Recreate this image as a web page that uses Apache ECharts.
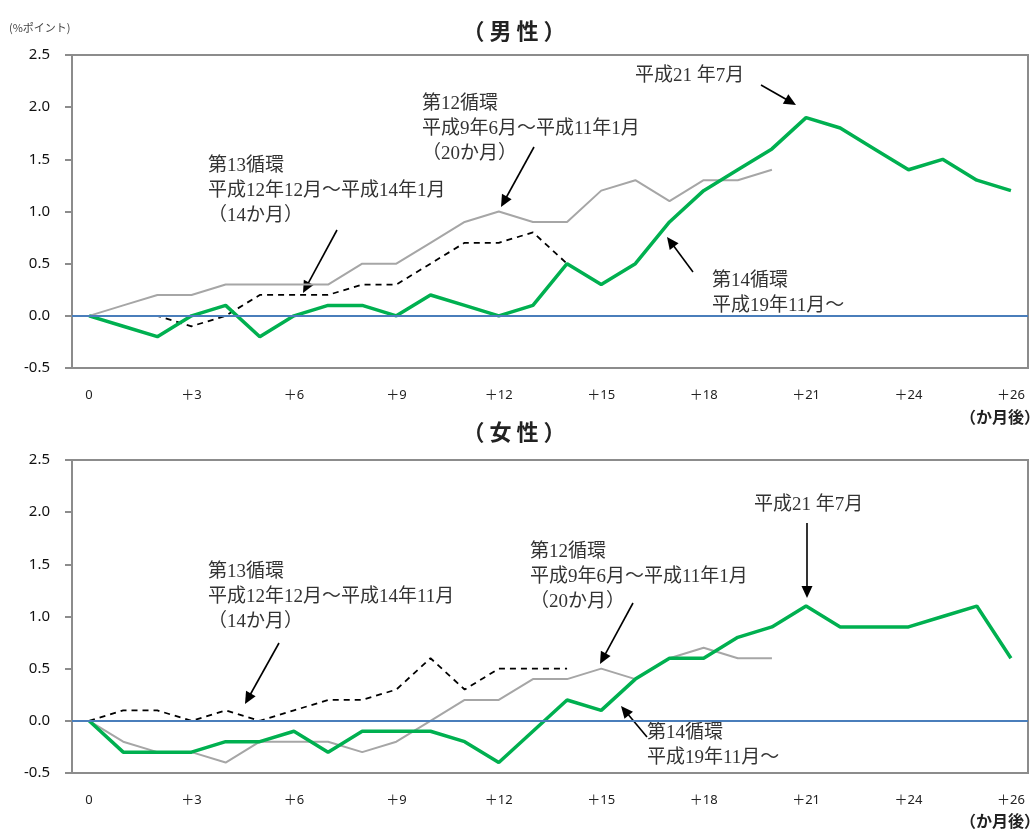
<!DOCTYPE html>
<html><head><meta charset="utf-8">
<script src="https://cdn.jsdelivr.net/npm/echarts@6/dist/echarts.min.js"></script>
<style>html,body{margin:0;padding:0;background:#fff}#c{width:1035px;height:830px}</style>
</head><body><div id="c"></div>
<script>
// months after trough (0..27)
var months = ['0','1','2','3','4','5','6','7','8','9','10','11','12','13','14','15','16','17','18','19','20','21','22','23','24','25','26','27'];
var tickLabels = {0:'0',3:'＋3',6:'＋6',9:'＋9',12:'＋12',15:'＋15',18:'＋18',21:'＋21',24:'＋24',27:'＋26'};
var yTicks = [-0.5, 0.0, 0.5, 1.0, 1.5, 2.0, 2.5];

// 男性
var male12 = [0,0.1,0.2,0.2,0.3,0.3,0.3,0.3,0.5,0.5,0.7,0.9,1.0,0.9,0.9,1.2,1.3,1.1,1.3,1.3,1.4];
var male13 = [0,0,0,-0.1,0,0.2,0.2,0.2,0.3,0.3,0.5,0.7,0.7,0.8,0.5];
var male14 = [0,-0.1,-0.2,0,0.1,-0.2,0,0.1,0.1,0,0.2,0.1,0,0.1,0.5,0.3,0.5,0.9,1.2,1.4,1.6,1.9,1.8,1.6,1.4,1.5,1.3,1.2];
// 女性
var female12 = [0,-0.2,-0.3,-0.3,-0.4,-0.2,-0.2,-0.2,-0.3,-0.2,0,0.2,0.2,0.4,0.4,0.5,0.4,0.6,0.7,0.6,0.6];
var female13 = [0,0.1,0.1,0,0.1,0,0.1,0.2,0.2,0.3,0.6,0.3,0.5,0.5,0.5];
var female14 = [0,-0.3,-0.3,-0.3,-0.2,-0.2,-0.1,-0.3,-0.1,-0.1,-0.1,-0.2,-0.4,-0.1,0.2,0.1,0.4,0.6,0.6,0.8,0.9,1.1,0.9,0.9,0.9,1.0,1.1,0.6];

var SANS = '"Noto Sans","Noto Sans CJK JP",sans-serif';
var CJK = '"Noto Sans CJK JP",sans-serif';
var NOTE = '"Liberation Serif","Noto Sans CJK JP",serif';

function xAxis(gi){
  return {type:'category', gridIndex:gi, data:months, boundaryGap:true,
    axisLine:{show:true, onZero:false, lineStyle:{color:'#8c8c8c', width:2}},
    axisTick:{show:false},
    axisLabel:{interval:0, margin:21, fontSize:13, color:'#222', fontFamily:SANS,
      formatter:function(v,i){return tickLabels[i]!==undefined?tickLabels[i]:'';}},
    splitLine:{show:false}};
}
function yAxis(gi){
  return {type:'value', gridIndex:gi, min:yTicks[0], max:yTicks[yTicks.length-1], interval:0.5,
    axisLine:{show:true, lineStyle:{color:'#8c8c8c', width:2}},
    axisTick:{show:true, inside:false, length:7, lineStyle:{color:'#8c8c8c', width:2}},
    axisLabel:{margin:22, fontSize:15, color:'#111', fontFamily:SANS, formatter:function(v){return v.toFixed(1);}},
    splitLine:{show:false}};
}
function seriesFor(gi, d12, d13, d14){
  return [
    {type:'line', xAxisIndex:gi, yAxisIndex:gi, data:d12, symbol:'none', z:2,
      lineStyle:{color:'#a6a6a6', width:2},
      markLine:{silent:true, symbol:'none', label:{show:false}, animation:false,
        lineStyle:{color:'#4a7ebb', width:2, type:'solid'}, data:[{yAxis:0}]}},
    {type:'line', xAxisIndex:gi, yAxisIndex:gi, data:d13, symbol:'none', z:3,
      lineStyle:{color:'#000', width:1.8, type:[6,5]}},
    {type:'line', xAxisIndex:gi, yAxisIndex:gi, data:d14, symbol:'none', z:4,
      lineStyle:{color:'#00b050', width:3.5}}
  ];
}

function arrow(x1,y1,x2,y2){
  var dx=x2-x1, dy=y2-y1, L=Math.sqrt(dx*dx+dy*dy), ux=dx/L, uy=dy/L;
  var hl=12, hw=5.5;
  var bx=x2-ux*hl, by=y2-uy*hl;
  return [
    {type:'line', shape:{x1:x1,y1:y1,x2:x2-ux*6,y2:y2-uy*6}, style:{stroke:'#000', lineWidth:1.6}, silent:true},
    {type:'polygon', shape:{points:[[x2,y2],[bx-uy*hw,by+ux*hw],[bx+uy*hw,by-ux*hw]]}, style:{fill:'#000'}, silent:true}
  ];
}
function note(x,yTop,text){
  return {type:'text', x:x, y:yTop, silent:true,
    style:{text:text, fontSize:19, fontFamily:NOTE, fill:'#333', lineHeight:25, textVerticalAlign:'top', textAlign:'left'}};
}

var graphics = [
  {type:'text', x:9, y:28, style:{text:'(%ポイント)', fontSize:11, fontFamily:CJK, fill:'#444', textVerticalAlign:'middle'}},
  {type:'text', x:514, y:31, style:{text:'（ 男 性 ）', fontSize:22, fontWeight:'bold', fontFamily:CJK, fill:'#222', textAlign:'center', textVerticalAlign:'middle'}},
  {type:'text', x:514, y:432, style:{text:'（ 女 性 ）', fontSize:22, fontWeight:'bold', fontFamily:CJK, fill:'#222', textAlign:'center', textVerticalAlign:'middle'}},
  {type:'text', x:1040, y:417, style:{text:'（か月後）', fontSize:16, fontWeight:'bold', fontFamily:CJK, fill:'#222', textAlign:'right', textVerticalAlign:'middle'}},
  {type:'text', x:1040, y:821, style:{text:'（か月後）', fontSize:16, fontWeight:'bold', fontFamily:CJK, fill:'#222', textAlign:'right', textVerticalAlign:'middle'}},
  // top annotations
  note(208,154,'第13循環\n平成12年12月～平成14年1月\n（14か月）'),
  note(422,92,'第12循環\n平成9年6月～平成11年1月\n（20か月）'),
  note(635,64,'平成21 年7月'),
  note(712,269,'第14循環\n平成19年11月～'),
  // bottom annotations
  note(208,560,'第13循環\n平成12年12月～平成14年11月\n（14か月）'),
  note(530,540,'第12循環\n平成9年6月～平成11年1月\n（20か月）'),
  note(754,493,'平成21 年7月'),
  note(647,721,'第14循環\n平成19年11月～')
];
graphics = graphics
  .concat(arrow(337,230,303,293))
  .concat(arrow(534,147,501,207))
  .concat(arrow(761,85,796,105))
  .concat(arrow(693,272,667,237))
  .concat(arrow(279,643,245,704))
  .concat(arrow(633,603,600,664))
  .concat(arrow(807,523,807,598))
  .concat(arrow(647,737,621,706));

var chart = echarts.init(document.getElementById('c'), null, {renderer:'canvas'});
chart.setOption({
  animation:false,
  backgroundColor:'#fff',
  grid:[
    {left:72, right:7, top:55, height:313, show:true, borderColor:'#8c8c8c', borderWidth:2, containLabel:false},
    {left:72, right:7, top:460, height:313, show:true, borderColor:'#8c8c8c', borderWidth:2, containLabel:false}
  ],
  xAxis:[xAxis(0), xAxis(1)],
  yAxis:[yAxis(0), yAxis(1)],
  series: seriesFor(0, male12, male13, male14).concat(seriesFor(1, female12, female13, female14)),
  graphic: graphics
});
</script>
</body></html>
